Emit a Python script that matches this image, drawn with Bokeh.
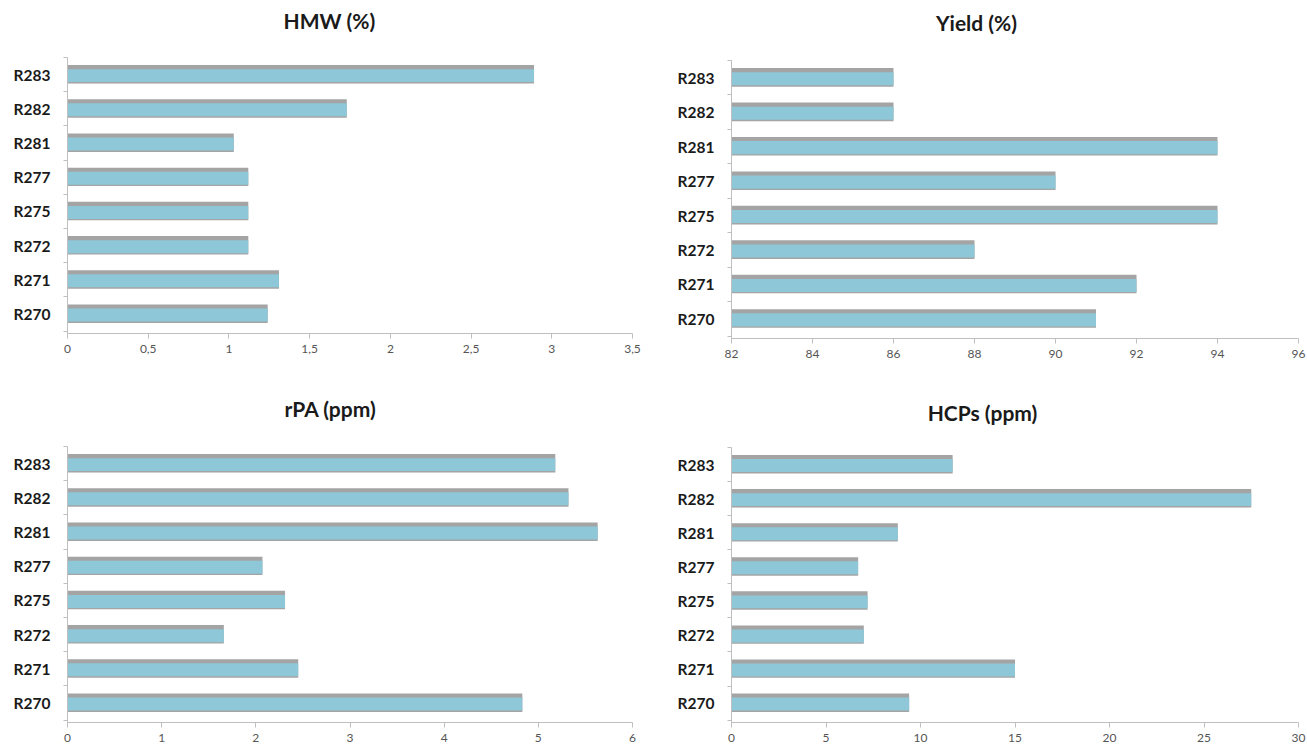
from bokeh.plotting import figure
from bokeh.models import FixedTicker, ColumnDataSource, Range1d
from bokeh.core.properties import value
from bokeh.layouts import row, column
from bokeh.embed import file_html
from bokeh.resources import INLINE

# ---- data ----
categories = ["R270", "R271", "R272", "R275", "R277", "R281", "R282", "R283"]
hmw = [1.24, 1.31, 1.12, 1.12, 1.12, 1.03, 1.73, 2.89]
yield_pct = [91, 92, 88, 94, 90, 94, 86, 86]
rpa = [4.83, 2.45, 1.66, 2.31, 2.07, 5.63, 5.32, 5.18]
hcps = [9.4, 15.0, 7.0, 7.2, 6.7, 8.8, 27.5, 11.7]

hmw_ticks = [0, 0.5, 1, 1.5, 2, 2.5, 3, 3.5]
yield_ticks = [82, 84, 86, 88, 90, 92, 94, 96]
rpa_ticks = [0, 1, 2, 3, 4, 5, 6]
hcps_ticks = [0, 5, 10, 15, 20, 25, 30]

titles = ["HMW (%)", "Yield (%)", "rPA (ppm)", "HCPs (ppm)"]

FONT = "Lato"
BLUE = "#8DC7D8"
SHADOW = "#A4A4A4"
AXIS = "#BFBFBF"


def fmt(v):
    s = ("%g" % v)
    return s.replace(".", ",")


def title_fig(text, width, height, left, right, tx, ty):
    t = figure(width=width, height=height, output_backend="svg", toolbar_location=None,
               x_range=Range1d(0, 1), y_range=Range1d(0, 1),
               x_axis_type=None, y_axis_type=None,
               min_border_left=left, min_border_right=right,
               min_border_top=0, min_border_bottom=0,
               frame_width=width - left - right, frame_height=height,
               outline_line_color=None)
    t.grid.visible = False
    t.text(x=[tx], y=[ty], text=[text], text_font=value(FONT), text_font_size="21px",
           text_font_style="bold", text_color="#1a1a1a",
           text_align="center", text_baseline="middle")
    return t


def make_panel(values, ticks, width, height, left, right, top, bottom):
    xmin, xmax = ticks[0], ticks[-1]
    p = figure(width=width, height=height, output_backend="svg", toolbar_location=None,
               x_range=Range1d(xmin, xmax), y_range=Range1d(-0.57, 7.5),
               min_border_left=left, min_border_right=right,
               min_border_top=top, min_border_bottom=bottom,
               frame_width=width - left - right, frame_height=height - top - bottom)
    p.outline_line_color = None
    p.xgrid.visible = False
    p.ygrid.visible = False

    ys = list(range(len(categories)))
    src = ColumnDataSource(dict(y=ys, v=values, base=[xmin] * len(values),
                                ysh=[y + 0.01 for y in ys], yb=[y - 0.03 for y in ys]))
    p.hbar(y="ysh", left="base", right="v", height=0.54, source=src,
           fill_color=SHADOW, line_color=None)
    p.hbar(y="yb", left="base", right="v", height=0.38, source=src,
           fill_color=BLUE, line_color=None)

    # x axis
    xa = p.xaxis[0]
    xa.ticker = FixedTicker(ticks=ticks)
    xa.major_label_overrides = {t: fmt(t) for t in ticks}
    xa.axis_line_color = AXIS
    xa.major_tick_line_color = AXIS
    xa.major_tick_out = 5
    xa.major_tick_in = 0
    xa.minor_tick_line_color = None
    xa.major_label_text_font = FONT
    xa.major_label_text_font_size = "12px"
    xa.major_label_text_color = "#555555"
    xa.major_label_standoff = 6

    # y axis
    ya = p.yaxis[0]
    ya.ticker = FixedTicker(ticks=ys, minor_ticks=[y - 0.5 for y in ys] + [len(ys) - 0.5])
    ya.major_label_overrides = {i: c for i, c in enumerate(categories)}
    ya.axis_line_color = AXIS
    ya.major_tick_line_color = None
    ya.minor_tick_line_color = AXIS
    ya.minor_tick_out = 4
    ya.minor_tick_in = 0
    ya.major_label_text_font = FONT
    ya.major_label_text_font_size = "15.5px"
    ya.major_label_text_font_style = "bold"
    ya.major_label_text_color = "#1a1a1a"
    ya.major_label_standoff = 11
    return p


t1 = title_fig(titles[0], 653, 45, 67, 21, (329 - 67) / 565, 25 / 45)
t2 = title_fig(titles[1], 654, 45, 77, 10, (975 - 730) / 567, 23 / 45)
t3 = title_fig(titles[2], 653, 56, 67, 21, (330 - 67) / 565, 28 / 56)
t4 = title_fig(titles[3], 654, 56, 78, 9, (982 - 731) / 567, 24 / 56)

p1 = make_panel(hmw, hmw_ticks, 653, 335, 67, 21, 12, 47)
p2 = make_panel(yield_pct, yield_ticks, 654, 335, 77, 10, 15, 42)
p3 = make_panel(rpa, rpa_ticks, 653, 310, 67, 21, 10, 24)
p4 = make_panel(hcps, hcps_ticks, 654, 310, 78, 9, 11, 24)

layout = row(column(t1, p1, t3, p3, spacing=0), column(t2, p2, t4, p4, spacing=0), spacing=0)

open("out.html", "w").write(file_html(layout, INLINE))
